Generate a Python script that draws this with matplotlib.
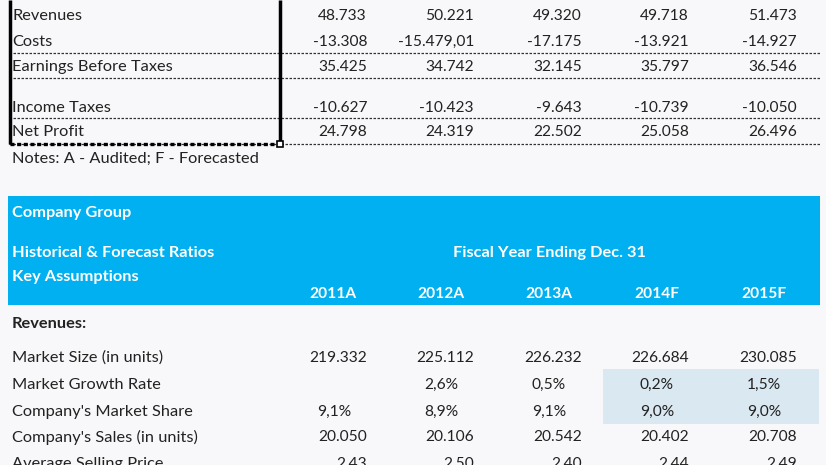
import matplotlib.pyplot as plt
from matplotlib.patches import Rectangle

# income statement part (top)
pl_labels = ['Revenues', 'Costs', 'Earnings Before Taxes', 'Income Taxes', 'Net Profit']
pl_values = [
    ['48.733', '50.221', '49.320', '49.718', '51.473'],
    ['-13.308', '-15.479,01', '-17.175', '-13.921', '-14.927'],
    ['35.425', '34.742', '32.145', '35.797', '36.546'],
    ['-10.627', '-10.423', '-9.643', '-10.739', '-10.050'],
    ['24.798', '24.319', '22.502', '25.058', '26.496'],
]
note = 'Notes: A - Audited; F - Forecasted'

# ratios part (bottom)
years = ['2011A', '2012A', '2013A', '2014F', '2015F']
ratio_labels = ['Market Size (in units)', 'Market Growth Rate', "Company's Market Share",
                "Company's Sales (in units)", 'Average Selling Price']
market_size = ['219.332', '225.112', '226.232', '226.684', '230.085']
growth_rate = ['', '2,6%', '0,5%', '0,2%', '1,5%']
market_share = ['9,1%', '8,9%', '9,1%', '9,0%', '9,0%']
sales_units = ['20.050', '20.106', '20.542', '20.402', '20.708']
avg_price = ['2,43', '2,50', '2,40', '2,44', '2,49']

W, H = 826, 465
fig = plt.figure(figsize=(W / 100, H / 100), dpi=100)
fig.patch.set_facecolor('#f8f8fa')
ax = fig.add_axes([0, 0, 1, 1])
ax.set_xlim(0, W)
ax.set_ylim(H, 0)
ax.axis('off')

fnt = 'Lato'
fs = 11.8       # labels
fn = 11.2       # numbers
txt = '#222222'
col_x = [367, 474, 582, 689, 797]      # right edge of numbers
pct_x = [351, 458, 566, 674, 781]      # percents sit a bit to the left
year_x = [357, 465, 572, 679, 786]

# --- top block
pl_y = [16, 42, 67, 108, 132]
for lab, vals, y in zip(pl_labels, pl_values, pl_y):
    ax.text(12, y, lab, fontsize=fs, family=fnt, color=txt, va='center')
    for v, x in zip(vals, col_x):
        ax.text(x, y, v, fontsize=fn, family=fnt, color=txt, va='center', ha='right')

for y in [53, 78, 118, 144]:
    ax.plot([9, 821], [y, y], color='#333333', lw=0.9, ls=(0, (2, 1.2)))

# selection box
ax.plot([10, 10], [0, 144], color='black', lw=2.5, solid_capstyle='butt')
ax.plot([280, 280], [0, 144], color='black', lw=2.5, solid_capstyle='butt')
ax.plot([10, 280], [144, 144], color='black', lw=2.4, ls=(0, (1.2, 0.8)))
ax.add_patch(Rectangle((277, 141), 6, 6, facecolor='white', edgecolor='black', lw=1.2, zorder=5))

ax.text(12, 159, note, fontsize=fs, family=fnt, color=txt, va='center')

# --- blue header
ax.add_patch(Rectangle((8, 196), 812, 109, facecolor='#00b0f0', edgecolor='none'))
ax.text(12, 213, 'Company Group', fontsize=fs, family=fnt, color='white', weight='bold', va='center')
ax.text(12, 253, 'Historical & Forecast Ratios', fontsize=fs, family=fnt, color='white',
        weight='bold', va='center')
ax.text(12, 277, 'Key Assumptions', fontsize=fs, family=fnt, color='white', weight='bold', va='center')
ax.text(549, 253, 'Fiscal Year Ending Dec. 31', fontsize=fs, family=fnt, color='white',
        weight='bold', va='center', ha='center')
for yr, x in zip(years, year_x):
    ax.text(x, 294, yr, fontsize=fn, family=fnt, color='white', weight='bold', va='center', ha='right')

ax.text(12, 324, 'Revenues:', fontsize=fs, family=fnt, color=txt, weight='bold', va='center')

# highlighted input cells
ax.add_patch(Rectangle((603, 369), 216, 55, facecolor='#dae8f2', edgecolor='none'))

rows = [market_size, growth_rate, market_share, sales_units, avg_price]
xs = [col_x, pct_x, pct_x, col_x, col_x]
row_y = [358, 385, 412, 437, 464]
for lab, vals, xpos, y in zip(ratio_labels, rows, xs, row_y):
    ax.text(12, y, lab, fontsize=fs, family=fnt, color=txt, va='center')
    for v, x in zip(vals, xpos):
        ax.text(x, y, v, fontsize=fn, family=fnt, color=txt, va='center', ha='right')

fig.savefig('out.png', dpi=100, facecolor=fig.get_facecolor())
